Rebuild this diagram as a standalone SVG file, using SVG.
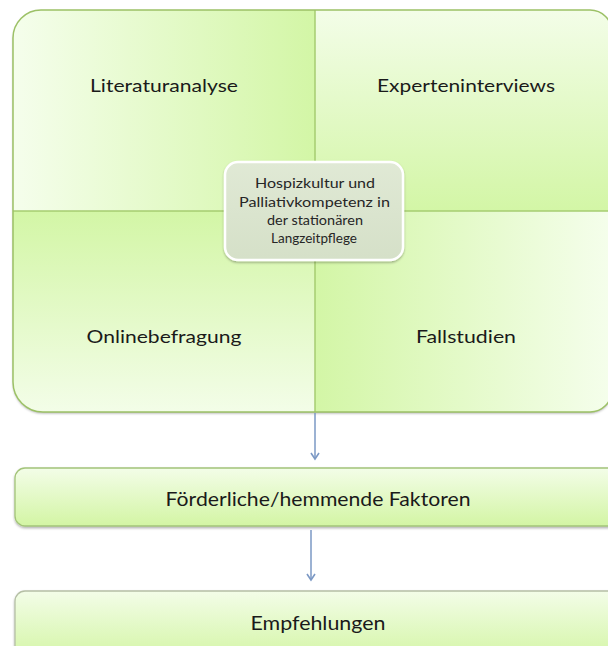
<svg xmlns="http://www.w3.org/2000/svg" width="608" height="646" viewBox="0 0 608 646">
<style>
.q{font-family:Lato,"Open Sans","Liberation Sans",sans-serif;font-size:18px;fill:#1a1a1a;text-anchor:middle}
.b{font-family:Lato,"Open Sans","Liberation Sans",sans-serif;font-size:20px;fill:#1a1a1a;text-anchor:middle}
.c{font-family:Lato,"Open Sans","Liberation Sans",sans-serif;font-size:13px;fill:#262626;text-anchor:middle}
.div{stroke:#a6cc70;stroke-width:1.5;fill:none}
.conn{stroke:#7b98c4;stroke-width:1.5;fill:none}
</style>
<defs>
<linearGradient id="gTL" x1="0" y1="0" x2="1" y2="0"><stop offset="0" stop-color="#f5feec"/><stop offset="1" stop-color="#d3f6a6"/></linearGradient>
<linearGradient id="gTR" x1="0" y1="1" x2="0" y2="0"><stop offset="0" stop-color="#d3f6a6"/><stop offset="1" stop-color="#f3fde8"/></linearGradient>
<linearGradient id="gBL" x1="0" y1="0" x2="0" y2="1"><stop offset="0" stop-color="#d3f6a6"/><stop offset="1" stop-color="#f3fde8"/></linearGradient>
<linearGradient id="gBR" x1="0" y1="0" x2="1" y2="0"><stop offset="0" stop-color="#d3f6a6"/><stop offset="1" stop-color="#f5feec"/></linearGradient>
<linearGradient id="gBox" x1="0" y1="0" x2="0" y2="1"><stop offset="0" stop-color="#f3fde8"/><stop offset="1" stop-color="#d3f5a4"/></linearGradient>
<linearGradient id="gC" x1="0" y1="0" x2="0" y2="1"><stop offset="0" stop-color="#e0e9d5"/><stop offset="1" stop-color="#d5e0c8"/></linearGradient>
<clipPath id="mclip"><path d="M41,10 H590 A22,22 0 0 1 612,32 V390 A22,22 0 0 1 590,412 H43 A30,30 0 0 1 13,382 V38 A28,28 0 0 1 41,10 Z"/></clipPath>
<filter id="sh" x="-5%" y="-5%" width="110%" height="115%"><feDropShadow dx="0" dy="1.5" stdDeviation="1.2" flood-color="#000" flood-opacity="0.3"/></filter>
<marker id="ah" markerWidth="10" markerHeight="10" refX="8" refY="5" orient="auto" markerUnits="userSpaceOnUse" viewBox="0 0 10 10"><path d="M2,1 L8,5 L2,9" fill="none" stroke="#7b98c4" stroke-width="1.6"/></marker>
</defs>
<g id="matrix">
<path d="M41,10 H590 A22,22 0 0 1 612,32 V390 A22,22 0 0 1 590,412 H43 A30,30 0 0 1 13,382 V38 A28,28 0 0 1 41,10 Z" fill="#e6f9cc" filter="url(#sh)"/>
<g clip-path="url(#mclip)">
<rect x="13" y="10" width="302" height="201" fill="url(#gTL)"/>
<rect x="315" y="10" width="297" height="201" fill="url(#gTR)"/>
<rect x="13" y="211" width="302" height="201" fill="url(#gBL)"/>
<rect x="315" y="211" width="297" height="201" fill="url(#gBR)"/>
</g>
<line class="div" x1="315" y1="10" x2="315" y2="412"/>
<line class="div" x1="13" y1="211" x2="612" y2="211"/>
<path d="M41,10 H590 A22,22 0 0 1 612,32 V390 A22,22 0 0 1 590,412 H43 A30,30 0 0 1 13,382 V38 A28,28 0 0 1 41,10 Z" fill="none" stroke="#9cc166" stroke-width="1.5"/>
</g>
<g id="q1"><text class="q" x="164" y="92" textLength="148" lengthAdjust="spacingAndGlyphs">Literaturanalyse</text></g>
<g id="q2"><text class="q" x="466" y="92" textLength="178" lengthAdjust="spacingAndGlyphs">Experteninterviews</text></g>
<g id="q3"><text class="q" x="164" y="343" textLength="155" lengthAdjust="spacingAndGlyphs">Onlinebefragung</text></g>
<g id="q4"><text class="q" x="466" y="343" textLength="100" lengthAdjust="spacingAndGlyphs">Fallstudien</text></g>
<g id="center">
<rect x="225" y="162" width="178" height="98" rx="13" fill="url(#gC)" stroke="#ffffff" stroke-width="2.5" filter="url(#sh)"/>
<text class="c" x="315" y="188" textLength="120" lengthAdjust="spacingAndGlyphs">Hospizkultur und</text>
<text class="c" x="314.5" y="207" textLength="151" lengthAdjust="spacingAndGlyphs">Palliativkompetenz in</text>
<text class="c" x="315" y="225" textLength="96" lengthAdjust="spacingAndGlyphs">der stationären</text>
<text class="c" x="314" y="243" textLength="86" lengthAdjust="spacingAndGlyphs">Langzeitpflege</text>
</g>
<g id="factors">
<rect x="15" y="468" width="610" height="58" rx="10" fill="url(#gBox)" stroke="#a3c479" stroke-width="1.3" filter="url(#sh)"/>
<text class="b" x="318" y="506" textLength="305" lengthAdjust="spacingAndGlyphs">Förderliche/hemmende Faktoren</text>
</g>
<g id="recommendations">
<rect x="15" y="591" width="610" height="70" rx="10" fill="url(#gBox)" stroke="#b5bfa5" stroke-width="1.3" filter="url(#sh)"/>
<text class="b" x="318" y="630" textLength="135" lengthAdjust="spacingAndGlyphs">Empfehlungen</text>
</g>
<g id="connectors">
<line class="conn" x1="315" y1="413" x2="315" y2="459" marker-end="url(#ah)"/>
<line class="conn" x1="311" y1="530" x2="311" y2="580" marker-end="url(#ah)"/>
</g>
</svg>
